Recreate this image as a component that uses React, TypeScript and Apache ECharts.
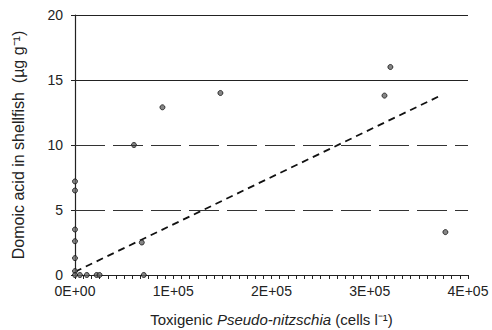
import React, { useEffect, useRef } from "react";
import * as echarts from "echarts";

const xValues = [0, 0, 0, 0, 0, 0, 0, 5000, 12000, 22000, 25000, 60000, 68000, 70000, 89000, 148000, 315000, 321000, 377000];
const yValues = [7.2, 6.5, 3.5, 2.6, 1.3, 0.3, 0, 0, 0, 0, 0, 10, 2.5, 0, 12.9, 14.0, 13.8, 16.0, 3.3];
const trendX = [0, 372000];
const trendY = [0.25, 13.8];
const dashedGridLevels = [5, 10];
const solidGridLevels = [15, 20];
const xTickLabels = ["0E+00", "1E+05", "2E+05", "3E+05", "4E+05"];

export default function App() {
  const ref = useRef<HTMLDivElement>(null);
  useEffect(() => {
    if (!ref.current) return;
    const chart = echarts.init(ref.current, null, { renderer: "svg" });
    const font = "'Liberation Sans', Arial, sans-serif";
    chart.setOption({
      animation: false,
      backgroundColor: "#ffffff",
      grid: { left: 75, right: 24, top: 15, bottom: 55, outerBoundsMode: "none", containLabel: false },
      xAxis: {
        type: "value",
        min: 0,
        max: 400000,
        interval: 100000,
        name: "{n|Toxigenic }{i|Pseudo-nitzschia}{n| (cells l⁻¹)}",
        nameLocation: "middle",
        nameGap: 37,
        nameTextStyle: {
          rich: {
            n: { fontFamily: font, fontSize: 15, color: "#222" },
            i: { fontFamily: font, fontSize: 15, color: "#222", fontStyle: "italic" },
          },
        },
        axisLine: { show: true, lineStyle: { color: "#222", width: 1 } },
        axisTick: { show: true, length: 4, lineStyle: { color: "#222", width: 1 } },
        minorTick: { show: true, splitNumber: 12, length: 4, lineStyle: { color: "#222", width: 1 } },
        splitLine: { show: false },
        axisLabel: {
          margin: 9,
          fontFamily: font,
          fontSize: 14,
          color: "#222",
          formatter: (v: number) => xTickLabels[Math.round(v / 100000)] ?? "",
        },
      },
      yAxis: {
        type: "value",
        min: 0,
        max: 20,
        interval: 5,
        name: "Domoic acid in shellfish  (µg g⁻¹)",
        nameLocation: "middle",
        nameGap: 49,
        nameTextStyle: { fontFamily: font, fontSize: 16, color: "#222" },
        axisLine: { show: true, lineStyle: { color: "#222", width: 1.2 } },
        axisTick: { show: true, length: 4, lineStyle: { color: "#222" } },
        splitLine: { show: false },
        axisLabel: { margin: 12, fontFamily: font, fontSize: 14, color: "#222" },
      },
      series: [
        {
          type: "line",
          data: [],
          silent: true,
          markLine: {
            symbol: "none",
            silent: true,
            label: { show: false },
            data: [
              ...dashedGridLevels.map((v) => ({ yAxis: v, lineStyle: { type: [30, 8], color: "#333", width: 1 } })),
              ...solidGridLevels.map((v) => ({ yAxis: v, lineStyle: { type: "solid", color: "#222", width: 1.2 } })),
            ],
          },
        },
        {
          type: "line",
          data: trendX.map((x, i) => [x, trendY[i]]),
          symbol: "none",
          lineStyle: { color: "#111", width: 1.8, type: [7, 5] },
          z: 3,
        },
        {
          type: "scatter",
          data: xValues.map((x, i) => [x, yValues[i]]),
          symbol: "circle",
          symbolSize: 5,
          itemStyle: { color: "#666", borderColor: "#111", borderWidth: 1 },
          z: 4,
        },
      ],
    });
    return () => chart.dispose();
  }, []);
  return <div ref={ref} style={{ width: 492, height: 330, position: "absolute", left: 0, top: 0 }} />;
}
